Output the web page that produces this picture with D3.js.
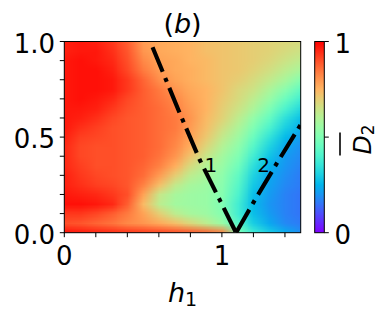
<!DOCTYPE html>
<html><head><meta charset="utf-8">
<script src="https://cdn.jsdelivr.net/npm/d3@7"></script>
<style>
body{margin:0;background:#fff}
svg{display:block}
text{font-family:"DejaVu Sans",sans-serif;fill:#000}
</style>
</head><body>
<svg id="chart" width="384" height="317"></svg>
<script>
// ---- data ----
const xGrid = [0,0.1,0.2,0.3,0.4,0.5,0.6,0.7,0.8,0.9,1.0,1.1,1.2,1.3,1.4,1.5];
const yGrid = [0,0.05,0.1,0.15,0.2,0.25,0.3,0.35,0.4,0.45,0.5,0.55,0.6,0.65,0.7,0.75,0.8,0.85,0.9,0.95,1.0];
// rows of D2 values, bottom row (y=0) first
const zRows = [
 [0.98,0.97,0.96,0.95,0.94,0.93,0.92,0.91,0.90,0.88,0.84,0.50,0.38,0.30,0.24,0.19],
 [0.90,0.89,0.87,0.85,0.82,0.80,0.77,0.73,0.68,0.62,0.55,0.42,0.30,0.23,0.18,0.16],
 [0.93,0.93,0.91,0.88,0.84,0.78,0.70,0.62,0.58,0.56,0.51,0.38,0.27,0.21,0.17,0.15],
 [0.98,0.98,0.97,0.95,0.88,0.74,0.62,0.57,0.56,0.55,0.50,0.38,0.26,0.20,0.17,0.15],
 [0.97,0.96,0.95,0.93,0.90,0.78,0.64,0.58,0.56,0.55,0.51,0.40,0.27,0.21,0.17,0.15],
 [0.96,0.94,0.92,0.91,0.89,0.83,0.73,0.63,0.58,0.56,0.52,0.42,0.29,0.22,0.18,0.16],
 [0.96,0.93,0.91,0.90,0.89,0.86,0.79,0.70,0.62,0.58,0.53,0.44,0.31,0.23,0.19,0.16],
 [0.95,0.92,0.90,0.90,0.89,0.87,0.83,0.76,0.67,0.60,0.55,0.47,0.34,0.25,0.20,0.17],
 [0.95,0.91,0.90,0.90,0.89,0.88,0.85,0.80,0.72,0.64,0.57,0.50,0.38,0.28,0.21,0.18],
 [0.95,0.91,0.90,0.90,0.89,0.88,0.86,0.82,0.76,0.68,0.60,0.53,0.42,0.31,0.23,0.19],
 [0.96,0.92,0.91,0.90,0.89,0.88,0.86,0.83,0.78,0.71,0.63,0.56,0.46,0.35,0.26,0.21],
 [0.97,0.94,0.92,0.90,0.89,0.88,0.86,0.84,0.79,0.73,0.66,0.59,0.50,0.40,0.30,0.24],
 [0.97,0.96,0.94,0.91,0.89,0.88,0.86,0.84,0.80,0.74,0.69,0.62,0.54,0.45,0.34,0.27],
 [0.97,0.97,0.96,0.93,0.90,0.88,0.86,0.83,0.79,0.75,0.70,0.65,0.59,0.50,0.40,0.32],
 [0.97,0.98,0.97,0.95,0.91,0.88,0.85,0.82,0.78,0.75,0.71,0.67,0.62,0.55,0.46,0.38],
 [0.97,0.98,0.98,0.97,0.93,0.88,0.84,0.80,0.77,0.75,0.72,0.68,0.65,0.59,0.52,0.44],
 [0.97,0.98,0.98,0.97,0.93,0.87,0.81,0.78,0.76,0.74,0.72,0.70,0.67,0.63,0.58,0.51],
 [0.97,0.98,0.98,0.96,0.91,0.84,0.79,0.77,0.76,0.74,0.72,0.71,0.69,0.66,0.62,0.58],
 [0.97,0.98,0.97,0.95,0.90,0.82,0.78,0.77,0.75,0.74,0.72,0.71,0.70,0.68,0.65,0.62],
 [0.96,0.97,0.97,0.94,0.89,0.80,0.77,0.76,0.75,0.73,0.72,0.71,0.70,0.69,0.67,0.65],
 [0.96,0.97,0.96,0.93,0.88,0.79,0.77,0.76,0.75,0.73,0.72,0.71,0.70,0.69,0.68,0.67]
];
const line1 = [[0.56,0.97],[0.73,0.63],[0.86,0.38],[0.99,0.165],[1.09,0]];
const line2 = [[1.09,0],[1.205,0.165],[1.35,0.365],[1.5,0.565]];
const lineLabels = [{text:"1", x:0.89, y:0.32},{text:"2", x:1.225, y:0.32}];
const xTicks = [0,0.2,0.4,0.6,0.8,1.0,1.2,1.4];
const xTickLabels = [{v:0,t:"0"},{v:1,t:"1"}];
const yTicks = [0,0.1,0.2,0.3,0.4,0.5,0.6,0.7,0.8,0.9,1.0];
const yTickLabels = [{v:0,t:"0.0"},{v:0.5,t:"0.5"},{v:1,t:"1.0"}];
const cbTicks = [0,0.5,1];
const cbTickLabels = [{v:0,t:"0"},{v:1,t:"1"}];

// ---- layout ----
const L=64.3, R=300.7, T=41.5, B=232.7;
const CBL=314.7, CBR=324.3;
const svg = d3.select("#chart");
const x = d3.scaleLinear().domain([0,1.5]).range([L,R]);
const y = d3.scaleLinear().domain([0,1]).range([B,T]);
const cy = d3.scaleLinear().domain([0,1]).range([B,T]);
function mplRainbow(t){
  const r=Math.min(1,Math.abs(2*t-0.5)), g=Math.max(0,Math.sin(Math.PI*t)), b=Math.max(0,Math.cos(Math.PI*t/2));
  return d3.rgb(Math.round(r*255),Math.round(g*255),Math.round(b*255)).toString();
}
const color = d3.scaleSequential([0,1], mplRainbow);

// clip
svg.append("defs").append("clipPath").attr("id","clip")
  .append("rect").attr("x",L).attr("y",T).attr("width",R-L).attr("height",B-T);

// heatmap image: one pixel per grid cell, smoothed by the browser when scaled
const nx=xGrid.length, ny=yGrid.length;
const cv=document.createElement("canvas"); cv.width=nx; cv.height=ny;
const ctx=cv.getContext("2d");
const img=ctx.createImageData(nx,ny);
zRows.forEach((row,j)=>{
  row.forEach((v,i)=>{
    const c=d3.rgb(color(v));
    const k=((ny-1-j)*nx+i)*4;
    img.data[k]=c.r; img.data[k+1]=c.g; img.data[k+2]=c.b; img.data[k+3]=255;
  });
});
ctx.putImageData(img,0,0);
const dx=xGrid[1]-xGrid[0], dy=yGrid[1]-yGrid[0];
const g=svg.append("g").attr("clip-path","url(#clip)");
g.append("image")
  .attr("href",cv.toDataURL())
  .attr("x",x(xGrid[0]-dx/2)).attr("y",y(yGrid[ny-1]+dy/2))
  .attr("width",x(xGrid[nx-1]+dx/2)-x(xGrid[0]-dx/2))
  .attr("height",y(yGrid[0]-dy/2)-y(yGrid[ny-1]+dy/2))
  .attr("preserveAspectRatio","none");

// dash-dot lines
const line=d3.line().x(d=>x(d[0])).y(d=>y(d[1]));
[line1,line2].forEach(pts=>{
  g.append("path").attr("d",line(pts)).attr("fill","none").attr("stroke","#000")
   .attr("stroke-width",4.15).attr("stroke-dasharray","26.6,6.6,4.15,6.6");
});
svg.selectAll(".ll").data(lineLabels).enter().append("text")
  .attr("x",d=>x(d.x)).attr("y",d=>y(d.y)).attr("font-size",20).text(d=>d.text);

// frame
svg.append("rect").attr("x",L).attr("y",T).attr("width",R-L).attr("height",B-T)
  .attr("fill","none").attr("stroke","#000").attr("stroke-width",1);

// ticks
const tl=4.5;
svg.selectAll(".xt").data(xTicks).enter().append("line")
  .attr("x1",d=>x(d)).attr("x2",d=>x(d)).attr("y1",B).attr("y2",B+tl).attr("stroke","#000").attr("stroke-width",1);
svg.selectAll(".yt").data(yTicks).enter().append("line")
  .attr("x1",L-tl).attr("x2",L).attr("y1",d=>y(d)).attr("y2",d=>y(d)).attr("stroke","#000").attr("stroke-width",1);
svg.selectAll(".xl").data(xTickLabels).enter().append("text")
  .attr("x",d=>x(d.v)).attr("y",265).attr("text-anchor","middle").attr("font-size",26).text(d=>d.t);
svg.selectAll(".yl").data(yTickLabels).enter().append("text")
  .attr("x",55).attr("y",d=>y(d.v)+11).attr("text-anchor","end").attr("font-size",26).text(d=>d.t);

// title
const title=svg.append("text").attr("x",(L+R)/2).attr("y",33).attr("text-anchor","middle").attr("font-size",27);
title.append("tspan").text("(");
title.append("tspan").attr("font-style","italic").text("b");
title.append("tspan").text(")");

// x label
const xl=svg.append("text").attr("x",(L+R)/2).attr("y",301.7).attr("text-anchor","middle").attr("font-size",27);
xl.append("tspan").attr("font-style","italic").text("h");
xl.append("tspan").attr("font-size",19).attr("dy",4).text("1");

// colorbar
const grad=svg.select("defs").append("linearGradient").attr("id","cbg")
  .attr("x1",0).attr("y1",1).attr("x2",0).attr("y2",0);
d3.range(0,1.0001,0.05).forEach(t=>grad.append("stop").attr("offset",t).attr("stop-color",color(t)));
svg.append("rect").attr("x",CBL).attr("y",T).attr("width",CBR-CBL).attr("height",B-T)
  .attr("fill","url(#cbg)").attr("stroke","#000").attr("stroke-width",1);
svg.selectAll(".ct").data(cbTicks).enter().append("line")
  .attr("x1",CBR).attr("x2",CBR+tl).attr("y1",d=>cy(d)).attr("y2",d=>cy(d)).attr("stroke","#000").attr("stroke-width",1);
svg.selectAll(".cl").data(cbTickLabels).enter().append("text")
  .attr("x",334.5).attr("y",d=>cy(d.v)+11).attr("font-size",26).text(d=>d.t);
const cbl=svg.append("g").attr("transform","translate(371,154.5) rotate(-90)");
const ct=cbl.append("text").attr("x",0).attr("y",0).attr("font-size",25);
ct.append("tspan").attr("font-style","italic").text("D");
ct.append("tspan").attr("font-size",17).attr("dy",3).text("2");
cbl.append("line").attr("x1",-1).attr("x2",22).attr("y1",-31).attr("y2",-31).attr("stroke","#000").attr("stroke-width",1.6);
</script>
</body></html>
